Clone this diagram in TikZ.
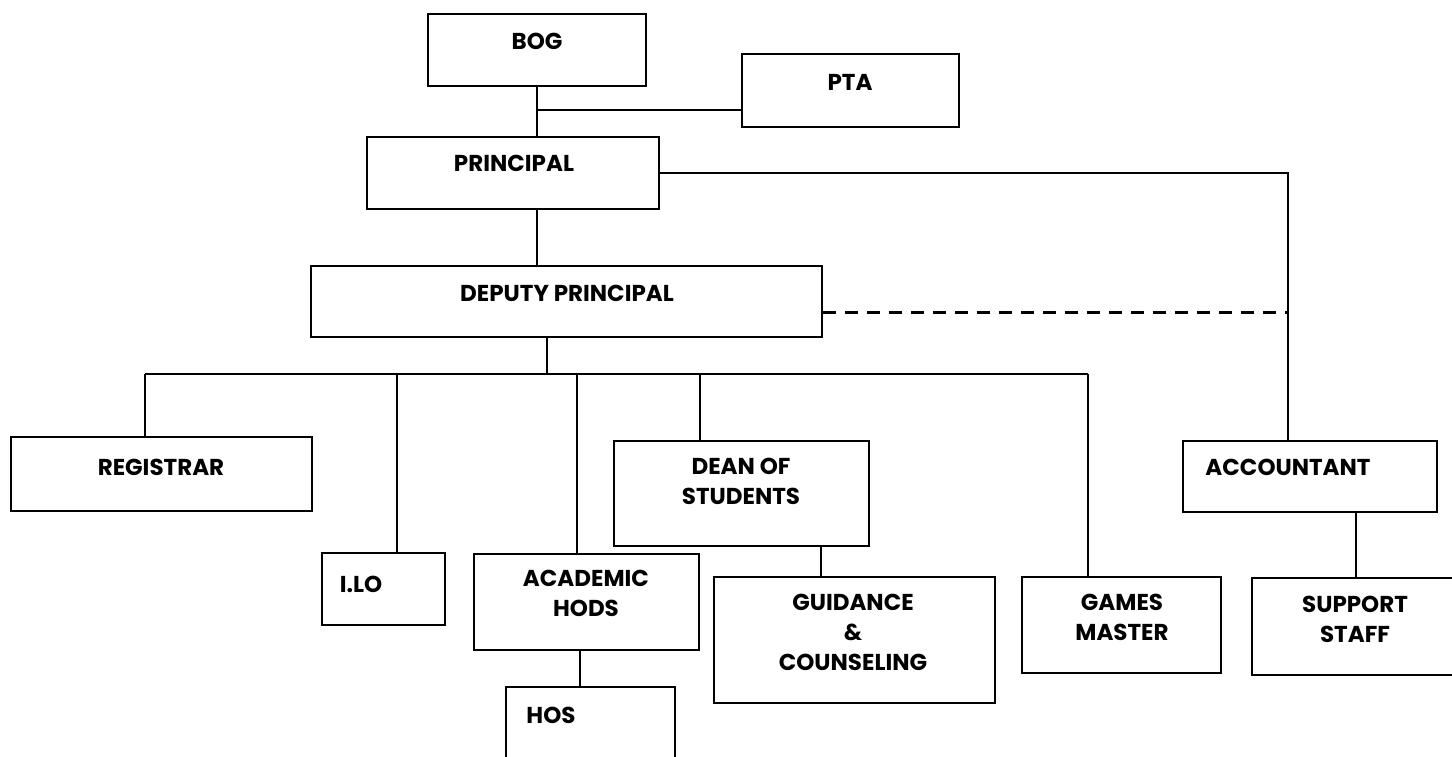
\documentclass[tikz,border=0pt]{standalone}
\usepackage{fontspec}
\setmainfont{Poppins}

\tikzset{
  box/.style={draw, rectangle, line width=2.6pt, inner sep=0pt},
  lbl/.style={font=\fontsize{23}{30}\selectfont\bfseries, align=center, inner sep=0pt},
  link/.style={line width=2.4pt},
}

\begin{document}
\begin{tikzpicture}[x=1pt, y=-1pt]
  \fill[white] (0,0) rectangle (1452,757);
  \useasboundingbox (0,0) rectangle (1452,757);
  \clip (0,0) rectangle (1452,757);
  % Boxes
  \node[box, minimum width=218pt, minimum height=72pt] (bog) at (537,50) {};
  \node[box, minimum width=217pt, minimum height=73pt] (pta) at (850.5,90.5) {};
  \node[box, minimum width=292pt, minimum height=72pt] (principal) at (513,173) {};
  \node[box, minimum width=511pt, minimum height=71pt] (deputy) at (566.5,301.5) {};
  \node[box, minimum width=301pt, minimum height=74pt] (registrar) at (161.5,474) {};
  \node[box, minimum width=123pt, minimum height=72pt] (ilo) at (383.5,589) {};
  \node[box, minimum width=225pt, minimum height=96pt] (academic) at (586.5,602) {};
  \node[box, minimum width=255pt, minimum height=105pt] (dean) at (741.5,493.5) {};
  \node[box, minimum width=281pt, minimum height=126pt] (guidance) at (854.5,640) {};
  \node[box, minimum width=199pt, minimum height=96pt] (games) at (1121.5,625) {};
  \node[box, minimum width=254pt, minimum height=71pt] (accountant) at (1310,476.5) {};
  \node[box, minimum width=223pt, minimum height=97pt] (support) at (1363.5,626.5) {};
  \node[box, minimum width=169pt, minimum height=103pt] (hos) at (590.5,738.5) {};
  % Labels
  \node[lbl] (bogtext) at (537,41) {BOG};
  \node[lbl] (ptatext) at (850,82) {PTA};
  \node[lbl] (principaltext) at (514,163) {PRINCIPAL};
  \node[lbl] (deputytext) at (567,293) {DEPUTY PRINCIPAL};
  \node[lbl] (registrartext) at (161,467) {REGISTRAR};
  \node[lbl] (ilotext) at (361,584) {I.LO};
  \node[lbl] (academictext) at (586,593.5) {ACADEMIC\\HODS};
  \node[lbl] (deantext) at (741,481.5) {DEAN OF\\STUDENTS};
  \node[lbl] (guidancetext) at (853,632.5) {GUIDANCE\\\&\\COUNSELING};
  \node[lbl] (gamestext) at (1122,617.5) {GAMES\\MASTER};
  \node[lbl] (accountanttext) at (1288,467) {ACCOUNTANT};
  \node[lbl] (supporttext) at (1355,619.5) {SUPPORT\\STAFF};
  \node[lbl] (hostext) at (551,715) {HOS};
  % Free ends of the lines
  \coordinate (ptajoin) at (537,110);
  \coordinate (accin) at (1288,441);
  \coordinate (busleft) at (145,374);
  \coordinate (busmid) at (547,374);
  \coordinate (busright) at (1088,374);
  % Draw the connections
  \draw[link] (bog.south) -- (bog.south |- principal.north);
  \draw[link] (ptajoin) -- (ptajoin -| pta.west);
  \draw[link] (principal.east) -| (accin);
  \draw[link] (principal.south -| bog.south) -- (deputy.north -| bog.south);
  \draw[link, line width=3pt, dash pattern=on 13pt off 9pt] ([yshift=-11pt]deputy.east) -- ([yshift=-11pt]deputy.east -| accin);
  \draw[link] (deputy.south -| busmid) -- (busmid);
  \draw[link] (busleft) -- (busright);
  \foreach \x/\n in {145/registrar, 397/ilo, 577/academic, 700/dean, 1088/games}
    \draw[link] (\x,374) -- (\x,374 |- \n.north);
  \draw[link] (821,546) -- (821,546 |- guidance.north);
  \draw[link] (580,650) -- (580,650 |- hos.north);
  \draw[link] (1356,512) -- (1356,512 |- support.north);
\end{tikzpicture}
\end{document}
